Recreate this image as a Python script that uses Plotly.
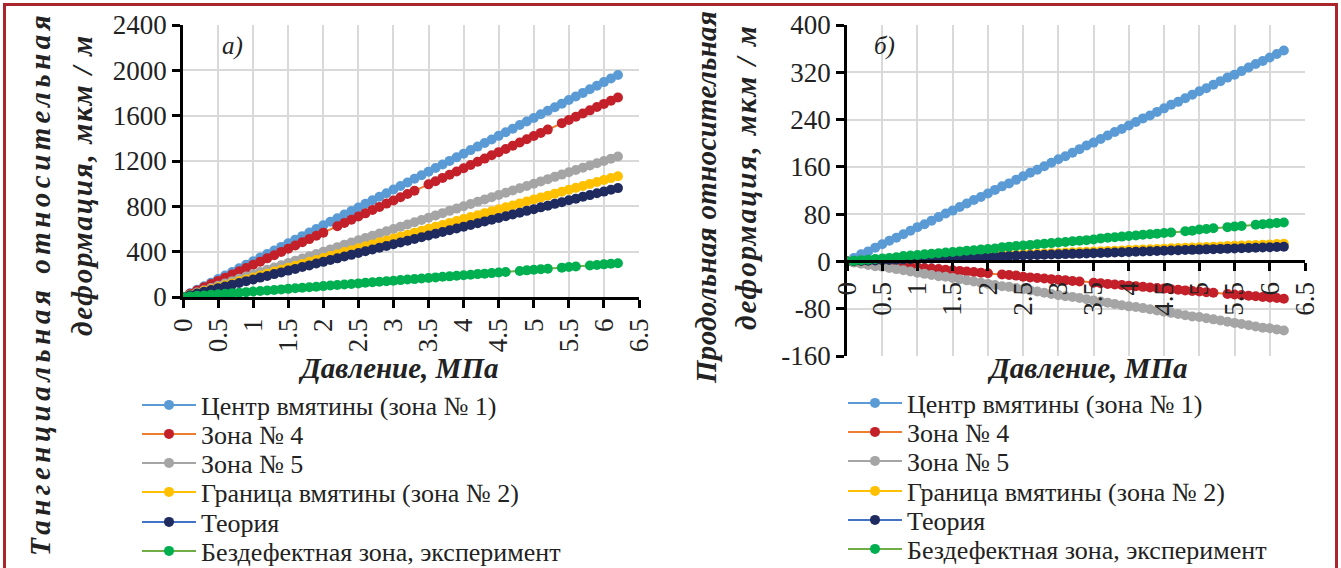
import plotly.graph_objects as go

# ---------------- data ----------------
pressure = [0.0, 0.1, 0.2, 0.3, 0.4, 0.5, 0.6, 0.7, 0.8, 0.9,
            1.0, 1.1, 1.2, 1.3, 1.4, 1.5, 1.6, 1.7, 1.8, 1.9,
            2.0, 2.1, 2.2, 2.3, 2.4, 2.5, 2.6, 2.7, 2.8, 2.9,
            3.0, 3.1, 3.2, 3.3, 3.4, 3.5, 3.6, 3.7, 3.8, 3.9,
            4.0, 4.1, 4.2, 4.3, 4.4, 4.5, 4.6, 4.7, 4.8, 4.9,
            5.0, 5.1, 5.2, 5.3, 5.4, 5.5, 5.6, 5.7, 5.8, 5.9,
            6.0, 6.1, 6.2]

series_names = ["Центр вмятины (зона № 1)", "Зона № 4", "Зона № 5",
                "Граница вмятины (зона № 2)", "Теория", "Бездефектная зона, эксперимент"]

# a) tangential strain, um/m
tang_center = [0, 32, 63, 95, 126, 158, 190, 221, 253, 284,
               316, 348, 379, 411, 442, 474, 506, 537, 569, 600,
               632, 664, 695, 727, 758, 790, 822, 853, 885, 916,
               948, 980, 1011, 1043, 1074, 1106, 1138, 1169, 1201, 1232,
               1264, 1296, 1327, 1359, 1390, 1422, 1454, 1485, 1517, 1548,
               1580, 1612, 1643, 1675, 1706, 1738, 1770, 1801, 1833, 1864,
               1896, 1928, 1959]
tang_zone4 = [0, 28, 57, 85, 114, 142, 170, 199, 227, 256,
              284, 312, 341, 369, 398, 426, 454, 483, 511, 540,
              568, None, 625, 653, 682, 710, 738, 767, 795, 824,
              852, 880, 909, 937, None, 994, 1022, 1051, 1079, 1108,
              1136, 1164, 1193, 1221, 1250, 1278, 1306, 1335, 1363, 1392,
              1420, 1448, 1477, None, 1534, 1562, 1590, 1619, 1647, 1676,
              1704, 1732, 1761]
tang_zone5 = [0, 20, 40, 60, 80, 100, 120, 140, 160, 180,
              200, 220, 240, 260, 280, 300, 320, 340, 360, 380,
              400, 420, 440, 460, 480, 500, 520, 540, 560, 580,
              600, 620, 640, 660, 680, 700, 720, 740, 760, 780,
              800, 820, 840, 860, 880, 900, 920, 940, 960, 980,
              1000, 1020, 1040, 1060, 1080, 1100, 1120, 1140, 1160, 1180,
              1200, 1220, 1240]
tang_border = [0, 17, 34, 52, 69, 86, 103, 120, 138, 155,
               172, 189, 206, 224, 241, 258, 275, 292, 310, 327,
               344, 361, 378, 396, 413, 430, 447, 464, 482, 499,
               516, 533, 550, 568, 585, 602, 619, 636, 654, 671,
               688, 705, 722, 740, 757, 774, 791, 808, 826, 843,
               860, 877, 894, 912, 929, 946, 963, 980, 998, 1015,
               1032, 1049, 1066]
tang_theory = [0, 16, 31, 47, 62, 78, 93, 109, 124, 140,
               155, 171, 186, 202, 217, 233, 248, 264, 279, 295,
               310, 326, 341, 357, 372, 388, 403, 419, 434, 450,
               465, 481, 496, 512, 527, 543, 558, 574, 589, 605,
               620, 636, 651, 667, 682, 698, 713, 729, 744, 760,
               775, 791, 806, 822, 837, 853, 868, 884, 899, 915,
               930, 946, 961]
tang_intact = [0, 5, 10, 14, 19, 24, 29, 34, 38, 43,
               48, 53, 58, 62, 67, 72, 77, 82, 86, 91,
               96, 101, 106, 110, 115, 120, 125, 130, 134, 139,
               144, 149, 154, 158, 163, 168, 173, 178, 182, 187,
               192, 197, 202, 206, 211, 216, 221, None, 230, 235,
               240, 245, 250, None, 259, 264, 269, None, 278, 283,
               288, 293, 298]

# б) longitudinal strain, um/m
long_center = [0, 6, 12, 17, 23, 29, 35, 40, 46, 52,
               58, 63, 69, 75, 81, 86, 92, 98, 104, 109,
               115, 121, 127, 132, 138, 144, 150, 155, 161, 167,
               173, 178, 184, 190, 196, 201, 207, 213, 219, 224,
               230, 236, 242, 247, 253, 259, 265, 270, 276, 282,
               288, 293, 299, 305, 311, 316, 322, 328, 334, 339,
               345, 351, 357]
long_zone4 = [0, -1, -2, -3, -4, -5, -6, -7, -8, -9,
              -10, -11, -12, -13, -14, -15, -16, -17, -18, -19,
              -20, None, -22, -23, -24, -26, -27, -28, -29, -30,
              -31, -32, -33, -34, None, -36, -37, -38, -39, -40,
              -41, -42, -43, -44, -45, -46, -47, -48, -49, -50,
              -51, -52, -53, None, -55, -56, -57, -58, -59, -60,
              -61, -62, -63]
long_zone5 = [0, -2, -4, -6, -8, -9, -11, -13, -15, -17,
              -19, -21, -23, -25, -26, -28, -30, -32, -34, -36,
              -38, -40, -42, -43, -45, -47, -49, -51, -53, -55,
              -57, -59, -60, -62, -64, -66, -68, -70, -72, -74,
              -76, -77, -79, -81, -83, -85, -87, -89, -91, -93,
              -94, -96, -98, -100, -102, -104, -106, -108, -110, -112,
              -113, -115, -117]
long_border = [0, 0.5, 1.0, 1.4, 1.9, 2.4, 2.9, 3.4, 3.8, 4.3,
               4.8, 5.3, 5.8, 6.2, 6.7, 7.2, 7.7, 8.2, 8.6, 9.1,
               9.6, 10.1, 10.6, 11.0, 11.5, 12.0, 12.5, 13.0, 13.4, 13.9,
               14.4, 14.9, 15.4, 15.8, 16.3, 16.8, 17.3, 17.8, 18.2, 18.7,
               19.2, 19.7, 20.2, 20.6, 21.1, 21.6, 22.1, 22.6, 23.0, 23.5,
               24.0, 24.5, 25.0, 25.4, 25.9, 26.4, 26.9, 27.4, 27.8, 28.3,
               28.8, 29.3, 29.8]
long_theory = [0, 0.4, 0.8, 1.2, 1.6, 2.0, 2.4, 2.8, 3.2, 3.6,
               4.0, 4.4, 4.8, 5.2, 5.6, 6.0, 6.4, 6.8, 7.2, 7.6,
               8.0, 8.4, 8.8, 9.2, 9.6, 10.0, 10.4, 10.8, 11.2, 11.6,
               12.0, 12.4, 12.8, 13.2, 13.6, 14.0, 14.4, 14.8, 15.2, 15.6,
               16.0, 16.4, 16.8, 17.2, 17.6, 18.0, 18.4, 18.8, 19.2, 19.6,
               20.0, 20.4, 20.8, 21.2, 21.6, 22.0, 22.4, 22.8, 23.2, 23.6,
               24.0, 24.4, 24.8]
long_intact = [0, 1, 2, 3, 4, 5, 6, 7, 9, 10,
               11, 12, 13, 14, 15, 16, 17, 18, 19, 20,
               21, 22, 24, 25, 26, 27, 28, 29, 30, 31,
               32, 33, 34, 35, 36, 37, 39, 40, 41, 42,
               43, 44, 45, 46, 47, 48, 49, None, 51, 52,
               54, 55, 56, None, 58, 59, 60, None, 62, 63,
               64, 65, 66]

x_ticks = [0, 0.5, 1, 1.5, 2, 2.5, 3, 3.5, 4, 4.5, 5, 5.5, 6, 6.5]
x_ticklabels = ["0", "0.5", "1", "1.5", "2", "2.5", "3", "3.5", "4", "4.5", "5", "5.5", "6", "6.5"]
tang_ticks = [0, 400, 800, 1200, 1600, 2000, 2400]
tang_ticklabels = ["0", "400", "800", "1200", "1600", "2000", "2400"]
long_ticks = [-160, -80, 0, 80, 160, 240, 320, 400]
long_ticklabels = ["-160", "-80", "0", "80", "160", "240", "320", "400"]

# ---------------- styles ----------------
line_colors = ["#5B9BD5", "#ED7D31", "#A5A5A5", "#FFC000", "#4472C4", "#70AD47"]
marker_colors = ["#5B9BD5", "#C3202A", "#A5A5A5", "#FFC000", "#1F2A5E", "#00B050"]

W, H = 1341, 568
ML, MR, MT, MB = 183, 36, 25, 212
PW, PH = W - ML - MR, H - MT - MB


def px_x(p):
    return (p - ML) / PW


def px_y(p):
    return (H - MB - p) / PH


SERIF = "Liberation Serif"
TXT = "#222222"

fig = go.Figure()

tang_sets = [tang_center, tang_zone4, tang_zone5, tang_border, tang_theory, tang_intact]
long_sets = [long_center, long_zone4, long_zone5, long_border, long_theory, long_intact]

legend_rows_l = [405, 434, 463, 492, 522, 551]
legend_rows_r = [403, 432, 461, 491, 520, 549]


def legend_id(k):
    return "legend" if k == 0 else "legend%d" % (k + 1)


for i, (name, vals) in enumerate(zip(series_names, tang_sets)):
    fig.add_trace(go.Scatter(
        x=pressure, y=vals, name=name, mode="lines+markers", connectgaps=True,
        line=dict(color=line_colors[i], width=2),
        marker=dict(color=marker_colors[i], size=10),
        xaxis="x", yaxis="y", legend=legend_id(i)))

for i, (name, vals) in enumerate(zip(series_names, long_sets)):
    fig.add_trace(go.Scatter(
        x=pressure, y=vals, name=name, mode="lines+markers", connectgaps=True,
        line=dict(color=line_colors[i], width=2),
        marker=dict(color=marker_colors[i], size=10),
        xaxis="x2", yaxis="y2", legend=legend_id(i + 6)))

dom_l = [0, px_x(639)]
dom_r = [px_x(847), 1]
ydom_l = [px_y(297), 1]
ydom_r = [0, 1]
zero_pos = ydom_r[0] + (0 - long_ticks[0]) / (long_ticks[-1] - long_ticks[0]) * (ydom_r[1] - ydom_r[0])

tickfont = dict(family=SERIF, size=27, color=TXT)
common = dict(showline=True, linecolor="black", linewidth=2.5,
              ticks="outside", ticklen=8, tickwidth=2.5, tickcolor="black",
              showgrid=True, gridcolor="#D9D9D9", gridwidth=1.5, zeroline=False,
              tickfont=tickfont, automargin=False)
inside = dict(showline=False, ticks="inside", ticklen=8, tickwidth=2.5, tickcolor="black",
              showgrid=False, zeroline=False, showticklabels=False)

layout = dict(
    width=W, height=H, margin=dict(l=ML, r=MR, t=MT, b=MB, autoexpand=False),
    paper_bgcolor="white", plot_bgcolor="white", showlegend=True,
    xaxis=dict(domain=dom_l, anchor="y", range=[0, 6.5], tickvals=x_ticks, ticktext=x_ticklabels,
               tickangle=-90, **common),
    yaxis=dict(domain=ydom_l, anchor="x", range=[0, 2400], tickvals=tang_ticks,
               ticktext=tang_ticklabels, **common),
    xaxis2=dict(domain=dom_r, anchor="free", position=zero_pos, range=[0, 6.5], tickvals=x_ticks,
                ticktext=x_ticklabels, tickangle=-90, **common),
    yaxis2=dict(domain=ydom_r, anchor="x2", range=[-160, 400], tickvals=long_ticks,
                ticktext=long_ticklabels, **common),
    xaxis3=dict(domain=dom_l, overlaying="x", anchor="y", range=[0, 6.5], tickvals=x_ticks, **inside),
    yaxis3=dict(domain=ydom_l, overlaying="y", anchor="x", range=[0, 2400], tickvals=tang_ticks, **inside),
    xaxis4=dict(domain=dom_r, overlaying="x2", anchor="free", position=zero_pos, range=[0, 6.5],
                tickvals=x_ticks, **inside),
    yaxis4=dict(domain=ydom_r, overlaying="y2", anchor="x2", range=[-160, 400], tickvals=long_ticks, **inside),
)
legend_font = dict(family=SERIF, size=26, color=TXT)
for k in range(12):
    if k < 6:
        lx, ly = px_x(137), px_y(legend_rows_l[k])
    else:
        lx, ly = px_x(843), px_y(legend_rows_r[k - 6])
    layout[legend_id(k)] = dict(x=lx, y=ly, xanchor="left", yanchor="middle", font=legend_font,
                                itemwidth=54, bgcolor="rgba(0,0,0,0)", borderwidth=0)
fig.update_layout(**layout)

title_font = dict(family=SERIF, size=29, color=TXT)


def spaced(txt, px):
    return '<span style="letter-spacing:%.1fpx"><b><i>%s</i></b></span>' % (px, txt)


ann = [
    dict(text=spaced("Тангенциальная относительная", 4.5), x=px_x(40), y=px_y(284), textangle=-90),
    dict(text=spaced("деформация, мкм / м", 1.8), x=px_x(82), y=px_y(185), textangle=-90),
    dict(text=spaced("Продольная относительная", 0.3), x=px_x(706), y=px_y(198), textangle=-90),
    dict(text=spaced("деформация, мкм / м", 2.0), x=px_x(746), y=px_y(177), textangle=-90),
    dict(text="<b><i>Давление, МПа</i></b>", x=px_x(398), y=px_y(368), textangle=0),
    dict(text="<b><i>Давление, МПа</i></b>", x=px_x(1087), y=px_y(368), textangle=0),
]
for a in ann:
    fig.add_annotation(xref="paper", yref="paper", showarrow=False, xanchor="center", yanchor="middle",
                       font=title_font, **a)

fig.add_annotation(xref="paper", yref="paper", showarrow=False, text="<i>а)</i>",
                   x=px_x(220), y=px_y(30), font=dict(family=SERIF, size=25, color=TXT))
fig.add_annotation(xref="paper", yref="paper", showarrow=False, text="<i>б)</i>",
                   x=px_x(884), y=px_y(30), font=dict(family=SERIF, size=25, color=TXT))

fig.add_shape(type="rect", xref="paper", yref="paper",
              x0=px_x(4.5), x1=px_x(1336.5), y0=px_y(4.5), y1=px_y(620),
              line=dict(color="#A8262C", width=3), fillcolor="rgba(0,0,0,0)", layer="above")

fig.write_html("out.html", config={"displayModeBar": False},
               post_script="document.body.style.margin='0px';")
